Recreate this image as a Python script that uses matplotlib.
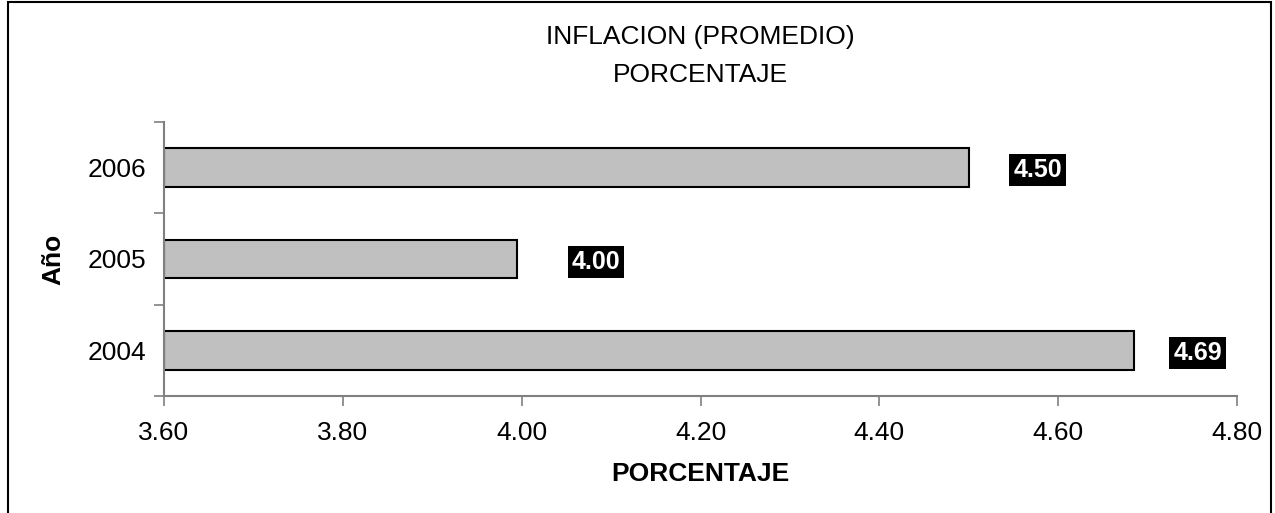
import numpy as np
import matplotlib.pyplot as plt
from matplotlib.patches import Rectangle

# data
years = ['2004', '2005', '2006']
values = [4.685, 3.995, 4.50]
value_labels = ['4.69', '4.00', '4.50']
label_pos = [4.756, 4.083, 4.577]

plt.rcParams['font.family'] = ['Liberation Sans', 'DejaVu Sans']

fig = plt.figure(figsize=(12.75, 5.13), dpi=100)
ax = fig.add_axes([164/1275, 1 - 396/513, (1237 - 164)/1275, (396 - 122)/513])

y = np.arange(len(years))
ax.barh(y, np.array(values) - 3.6, left=3.6, height=0.42,
        color='#c0c0c0', edgecolor='black', linewidth=1.5)

for yi, txt, xp in zip(y, value_labels, label_pos):
    ax.text(xp, yi - 0.03, txt, ha='center', va='center', fontsize=18,
            fontweight='bold', color='white',
            bbox=dict(boxstyle='square,pad=0.16', fc='black', ec='none'))

ax.set_xlim(3.6, 4.8)
ax.set_ylim(-0.5, 2.5)
ax.set_xticks(np.arange(3.6, 4.81, 0.2))
ax.set_xticklabels(['%.2f' % v for v in np.arange(3.6, 4.81, 0.2)])
ax.set_yticks(y)
ax.set_yticklabels(years)
ax.set_yticks([-0.5, 0.5, 1.5, 2.5], minor=True)
ax.tick_params(axis='y', which='major', length=0, pad=13, labelsize=19)
ax.tick_params(axis='y', which='minor', length=7, color='#808080', width=1.2)
ax.tick_params(axis='x', length=7, color='#808080', width=1.2, pad=11, labelsize=19)

for s in ['top', 'right']:
    ax.spines[s].set_visible(False)
for s in ['left', 'bottom']:
    ax.spines[s].set_color('#808080')
    ax.spines[s].set_linewidth(1.5)

ax.set_xlabel('PORCENTAJE', fontsize=19, fontweight='bold', labelpad=12)
ax.set_ylabel('Año', fontsize=19, fontweight='bold', labelpad=16)

fig.text(0.549, 1 - 37/513, 'INFLACION (PROMEDIO)', ha='center', va='center', fontsize=19)
fig.text(0.549, 1 - 75/513, 'PORCENTAJE', ha='center', va='center', fontsize=19)

# outer border
fig.patches.append(Rectangle((8/1275, -0.01), (1271 - 8)/1275, 1.01 - 1.5/513,
                             transform=fig.transFigure, fill=False,
                             edgecolor='black', linewidth=1.5))

fig.savefig('out.png', dpi=100)
